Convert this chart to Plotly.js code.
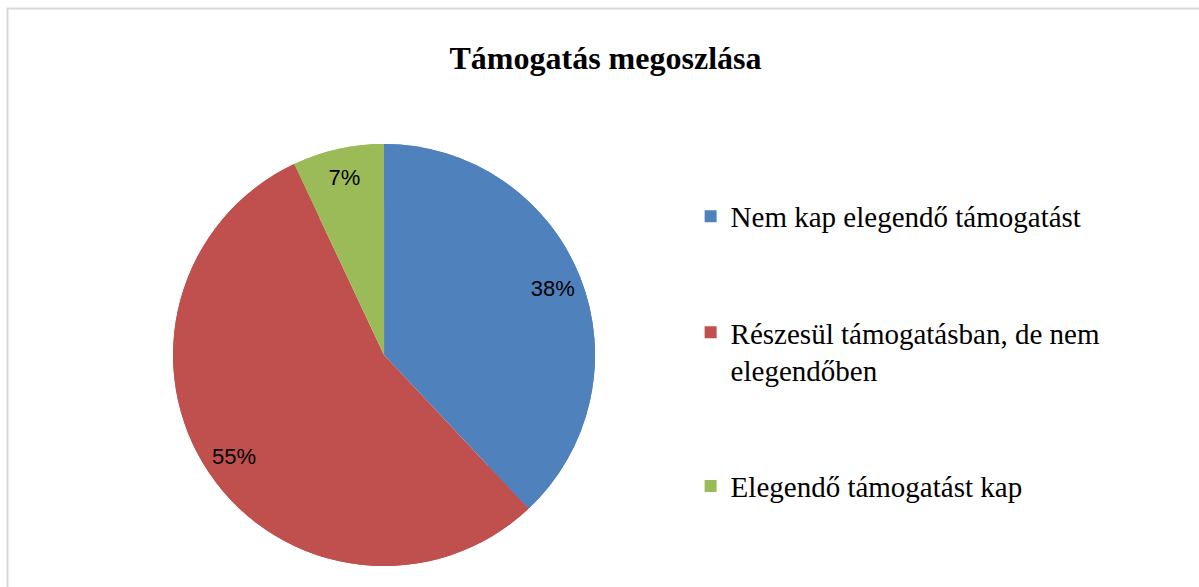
<!DOCTYPE html>
<html>
<head>
<meta charset="utf-8">
<script src="https://cdn.plot.ly/plotly-3.0.1.min.js"></script>
<style>html,body{margin:0;padding:0;background:#fff;}#chart{width:1199px;height:587px;}</style>
</head>
<body>
<div id="chart"></div>
<script>
const categories = ["Nem kap elegendő támogatást", "Részesül támogatásban, de nem elegendőben", "Elegendő támogatást kap"];
const legendLabels = ["Nem kap elegendő támogatást", "Részesül támogatásban, de nem<br>elegendőben", "Elegendő támogatást kap"];
const values = [38, 55, 7];
const colors = ["#4f81bd", "#c0504d", "#9bbb59"];
const chartTitle = "Támogatás megoszlása";

// pad legend entries with blank lines to reproduce the wide spacing
const padded = legendLabels.map((l, i) => i < legendLabels.length - 1 ? l + "<br> <br> " : l);

const pieDomain = {x: [0.1443, 0.4963], y: [0.0358, 0.7547]};

// full pie underneath (no text)
const basePie = {
  type: "pie",
  labels: padded,
  values: values,
  sort: false,
  direction: "clockwise",
  rotation: 0,
  marker: {colors: colors, line: {width: 0}},
  textinfo: "none",
  showlegend: false,
  hoverinfo: "skip",
  domain: pieDomain
};

// outer ring on top, carries the percent labels near the rim
const ringPie = {
  type: "pie",
  labels: padded,
  values: values,
  sort: false,
  direction: "clockwise",
  rotation: 0,
  hole: 0.72,
  marker: {colors: colors, line: {width: 0}},
  textinfo: "percent",
  texttemplate: "%{percent:.0%}",
  textposition: "inside",
  insidetextorientation: "horizontal",
  textfont: {family: "Liberation Sans, Arial, sans-serif", size: 22, color: "#000"},
  hoverinfo: "label+percent",
  domain: pieDomain
};

const layout = {
  width: 1199, height: 587,
  margin: {l: 0, r: 0, t: 0, b: 0},
  paper_bgcolor: "#fff",
  title: {
    text: "<b>" + chartTitle + "</b>",
    font: {family: "Liberation Serif, Times New Roman, serif", size: 32, color: "#000"},
    x: 0.505, xanchor: "center", y: 0.901, yanchor: "middle"
  },
  showlegend: true,
  legend: {
    x: 0.576, xanchor: "left", y: 0.675, yanchor: "top",
    valign: "top",
    font: {family: "Liberation Serif, Times New Roman, serif", size: 29, color: "#000"},
    bgcolor: "rgba(0,0,0,0)"
  },
  shapes: [{
    type: "rect", xref: "paper", yref: "paper",
    x0: 7.5 / 1199, x1: 1.05, y0: -0.05, y1: 1 - 8.5 / 587,
    line: {color: "#d9d9d9", width: 2}, fillcolor: "rgba(0,0,0,0)"
  }]
};

Plotly.newPlot("chart", [basePie, ringPie], layout, {displayModeBar: false, staticPlot: true});
</script>
</body>
</html>
